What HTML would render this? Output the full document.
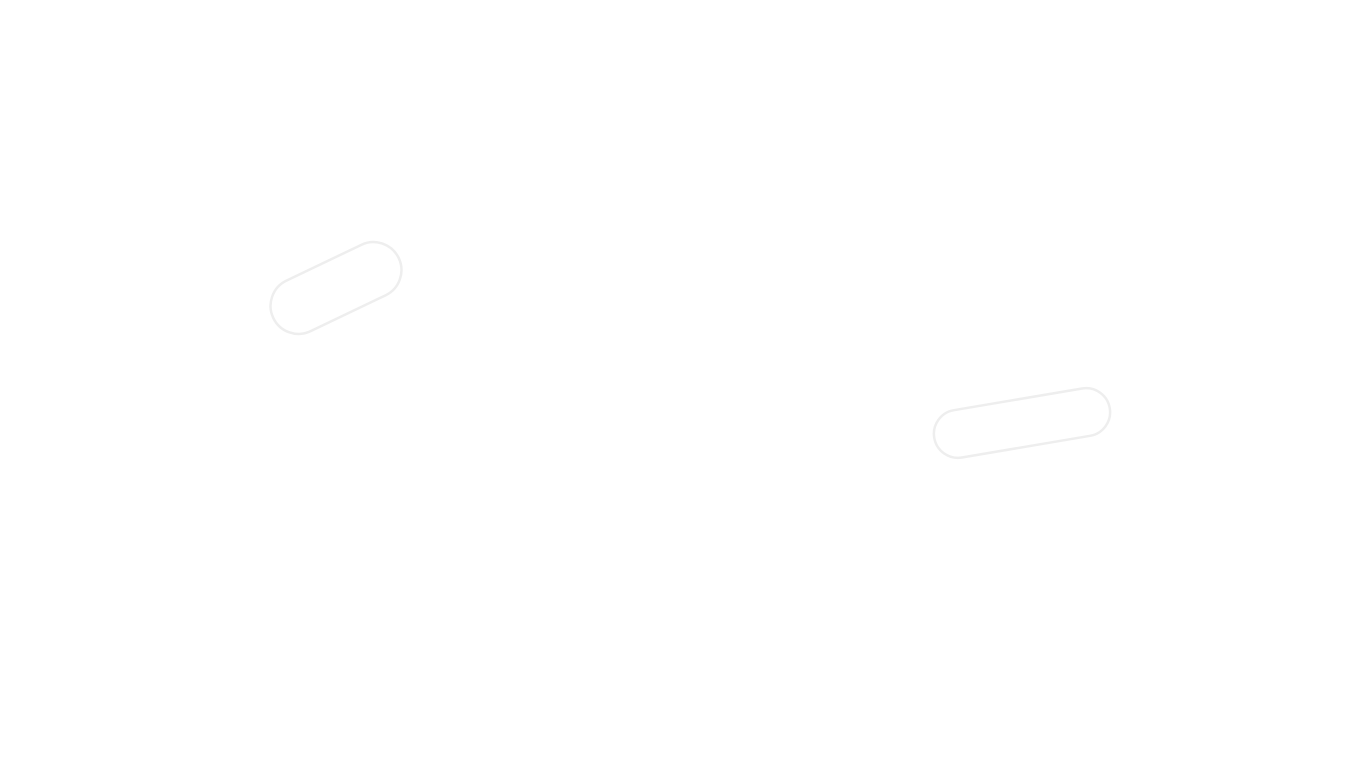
<!DOCTYPE html>
<html><head><meta charset="utf-8"><style>
html,body{margin:0;padding:0;background:#fff;width:1366px;height:768px;overflow:hidden}
</style></head><body>
<svg width="1366" height="768" xmlns="http://www.w3.org/2000/svg">
<g transform="translate(336,288) rotate(-25.6)">
<rect x="-69.5" y="-28" width="139" height="56" rx="28" ry="28" fill="none" stroke="#eeeeee" stroke-width="2.5"/>
</g>
<g transform="translate(1022,423) rotate(-9.6)">
<rect x="-89" y="-24" width="178" height="48" rx="24" ry="24" fill="none" stroke="#eeeeee" stroke-width="2.5"/>
</g>
</svg>
</body></html>
